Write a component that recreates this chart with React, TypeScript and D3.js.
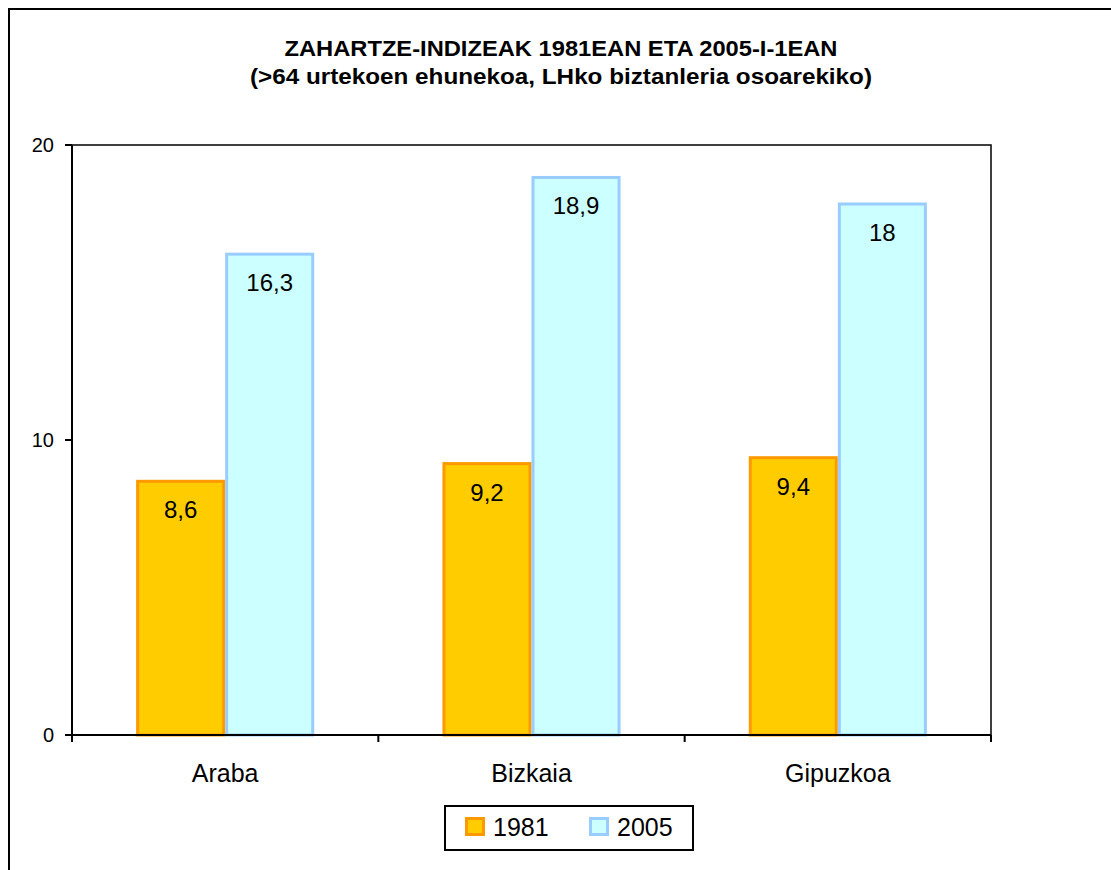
import React, { useEffect, useRef } from "react";
import * as d3 from "d3";

const categories = ["Araba", "Bizkaia", "Gipuzkoa"];
const seriesNames = ["1981", "2005"];
const values1981 = [8.6, 9.2, 9.4];
const values2005 = [16.3, 18.9, 18];
const yTicks = [0, 10, 20];
const titleLines = [
  "ZAHARTZE-INDIZEAK 1981EAN ETA 2005-I-1EAN",
  "(>64 urtekoen ehunekoa, LHko biztanleria osoarekiko)"
];
const titleWidths = [553, 622];

const fills = ["#FFCC00", "#CCFFFF"];
const strokes = ["#FF9900", "#99CCFF"];
const font = "'Liberation Sans', Arial, sans-serif";

const W = 1111;
const H = 870;
const plot = { left: 72, right: 991, top: 145, bottom: 735 };

function fmt(v: number) {
  return String(v).replace(".", ",");
}

export default function App() {
  const svgRef = useRef<SVGSVGElement | null>(null);

  useEffect(() => {
    const svg = d3.select(svgRef.current);
    svg.selectAll("*").remove();

    // outer chart frame
    svg
      .append("rect")
      .attr("x", 9)
      .attr("y", 9)
      .attr("width", W + 20)
      .attr("height", H + 20)
      .attr("fill", "#fff")
      .attr("stroke", "#000")
      .attr("stroke-width", 2);

    // title
    svg
      .append("g")
      .selectAll("text")
      .data(titleLines)
      .enter()
      .append("text")
      .attr("x", 561)
      .attr("y", (d, i) => 56 + i * 28)
      .attr("text-anchor", "middle")
      .attr("textLength", (d, i) => titleWidths[i])
      .attr("lengthAdjust", "spacingAndGlyphs")
      .style("font-family", font)
      .style("font-weight", "bold")
      .style("font-size", "22px")
      .text(d => d);

    const x = d3
      .scaleBand<string>()
      .domain(categories)
      .range([plot.left, plot.right]);
    const xs = d3
      .scaleBand<string>()
      .domain(seriesNames)
      .range([0, x.bandwidth()])
      .paddingOuter(0.72);
    const y = d3
      .scaleLinear()
      .domain([0, 20])
      .range([plot.bottom, plot.top]);

    // plot border (top + right)
    svg
      .append("path")
      .attr("d", `M${plot.left},${plot.top}H${plot.right}V${plot.bottom}`)
      .attr("fill", "none")
      .attr("stroke", "#000")
      .attr("stroke-width", 1.5);

    const rows = categories.map((c, i) => ({
      cat: c,
      vals: [values1981[i], values2005[i]]
    }));

    const groups = svg
      .append("g")
      .selectAll("g")
      .data(rows)
      .enter()
      .append("g")
      .attr("transform", d => `translate(${x(d.cat)},0)`);

    seriesNames.forEach((s, si) => {
      groups
        .append("rect")
        .attr("x", xs(s)! + 1.5)
        .attr("y", d => y(d.vals[si]))
        .attr("width", xs.bandwidth() - 3)
        .attr("height", d => y(0) - y(d.vals[si]))
        .attr("fill", fills[si])
        .attr("stroke", strokes[si])
        .attr("stroke-width", 3);
      groups
        .append("text")
        .attr("x", xs(s)! + xs.bandwidth() / 2)
        .attr("y", d => y(d.vals[si]) + 37)
        .attr("text-anchor", "middle")
        .style("font-family", font)
        .style("font-size", "24px")
        .text(d => fmt(d.vals[si]));
    });

    // y axis
    const yAxis = svg.append("g");
    yAxis
      .append("line")
      .attr("x1", plot.left)
      .attr("x2", plot.left)
      .attr("y1", plot.top)
      .attr("y2", plot.bottom + 7)
      .attr("stroke", "#000")
      .attr("stroke-width", 2);
    yAxis
      .selectAll("line.tick")
      .data(yTicks)
      .enter()
      .append("line")
      .attr("class", "tick")
      .attr("x1", plot.left - 7)
      .attr("x2", plot.left)
      .attr("y1", d => y(d))
      .attr("y2", d => y(d))
      .attr("stroke", "#000")
      .attr("stroke-width", 2);
    yAxis
      .selectAll("text")
      .data(yTicks)
      .enter()
      .append("text")
      .attr("x", plot.left - 18)
      .attr("y", d => y(d) + 7)
      .attr("text-anchor", "end")
      .style("font-family", font)
      .style("font-size", "20px")
      .text(d => d);

    // x axis
    const xAxis = svg.append("g");
    xAxis
      .append("line")
      .attr("x1", plot.left)
      .attr("x2", plot.right)
      .attr("y1", plot.bottom)
      .attr("y2", plot.bottom)
      .attr("stroke", "#000")
      .attr("stroke-width", 2);
    const bounds = categories.map(c => x(c)!).concat([plot.right]);
    xAxis
      .selectAll("line.tick")
      .data(bounds)
      .enter()
      .append("line")
      .attr("class", "tick")
      .attr("x1", d => d)
      .attr("x2", d => d)
      .attr("y1", plot.bottom)
      .attr("y2", plot.bottom + 7)
      .attr("stroke", "#000")
      .attr("stroke-width", 2);
    xAxis
      .selectAll("text")
      .data(categories)
      .enter()
      .append("text")
      .attr("x", d => x(d)! + x.bandwidth() / 2)
      .attr("y", plot.bottom + 47)
      .attr("text-anchor", "middle")
      .style("font-family", font)
      .style("font-size", "25px")
      .text(d => d);

    // legend
    const legend = svg.append("g");
    legend
      .append("rect")
      .attr("x", 445)
      .attr("y", 806)
      .attr("width", 248)
      .attr("height", 44)
      .attr("fill", "#fff")
      .attr("stroke", "#000")
      .attr("stroke-width", 2);
    const lx = [465, 589];
    seriesNames.forEach((s, i) => {
      legend
        .append("rect")
        .attr("x", lx[i] + 1.5)
        .attr("y", 818.5)
        .attr("width", 17)
        .attr("height", 16)
        .attr("fill", fills[i])
        .attr("stroke", strokes[i])
        .attr("stroke-width", 3);
      legend
        .append("text")
        .attr("x", lx[i] + 28)
        .attr("y", 836)
        .style("font-family", font)
        .style("font-size", "25px")
        .text(s);
    });
  }, []);

  return (
    <svg
      ref={svgRef}
      width={W}
      height={H}
      style={{ position: "absolute", left: 0, top: 0, background: "#fff" }}
    />
  );
}
